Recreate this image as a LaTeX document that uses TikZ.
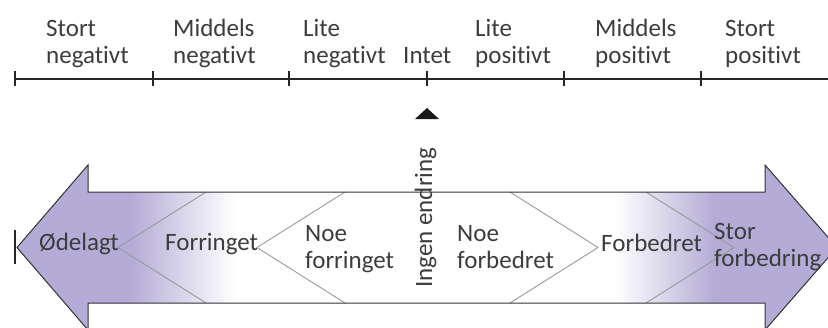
\documentclass[tikz,border=0pt]{standalone}
\usepackage{fontspec}
\setmainfont[Ligatures={NoCommon}]{Carlito}
\definecolor{lilla}{RGB}{180,171,214}
\definecolor{tekst}{RGB}{60,60,60}
\tikzset{
  lbl/.style={anchor=base west, align=left, inner sep=0pt, text=tekst,
    font=\fontsize{25}{27}\selectfont},
  axisline/.style={line width=2.8pt, draw=black!85},
  tickmark/.style={line width=2.6pt, draw=black!85},
  chev/.style={draw=black!40, line width=0.9pt},
  outline/.style={draw=black!80, line width=1pt, line join=miter}
}
\begin{document}
\begin{tikzpicture}[x=1pt,y=-1pt]
      \useasboundingbox (0,0) rectangle (828,327);
      % scale on top
      \coordinate (t0) at (15,79);
      \coordinate (t1) at (153,79);
      \coordinate (t2) at (289,79);
      \coordinate (t3) at (427,79);
      \coordinate (t4) at (564,79);
      \coordinate (t5) at (701,79);
      \coordinate (tend) at (830,79);
      \draw[axisline] (t0) -- (tend);
      \draw[tickmark] ([yshift=-7pt]t0) -- ([yshift=8pt]t0);
      \draw[tickmark] ([yshift=-7pt]t1) -- ([yshift=8pt]t1);
      \draw[tickmark] ([yshift=-7pt]t2) -- ([yshift=8pt]t2);
      \draw[tickmark] ([yshift=-7pt]t3) -- ([yshift=8pt]t3);
      \draw[tickmark] ([yshift=-7pt]t4) -- ([yshift=8pt]t4);
      \draw[tickmark] ([yshift=-7pt]t5) -- ([yshift=8pt]t5);
      \node[lbl] (sneg) at (46,63) {Stort\\negativt};
      \node[lbl] (mneg) at (173,63) {Middels\\negativt};
      \node[lbl] (lneg) at (303,63) {Lite\\negativt};
      \node[lbl] (intet) at (403,63) {Intet};
      \node[lbl] (lpos) at (475,63) {Lite\\positivt};
      \node[lbl] (mpos) at (595,63) {Middels\\positivt};
      \node[lbl] (spos) at (725,63) {Stort\\positivt};
      \fill[black!90] (427,108) -- (439,119) -- (415,119) -- cycle;
      % double arrow
      \coordinate (ltip) at (17,247.5);
      \coordinate (lht) at (88,165);
      \coordinate (lbt) at (88,192);
      \coordinate (rbt) at (765,192);
      \coordinate (rht) at (765,165);
      \coordinate (rtip) at (837,247.5);
      \coordinate (rhb) at (765,330);
      \coordinate (rbb) at (765,303);
      \coordinate (lbb) at (88,303);
      \coordinate (lhb) at (88,330);
      \begin{scope}
        \clip (ltip) -- (lht) -- (lbt) -- (rbt) -- (rht) -- (rtip)
          -- (rhb) -- (rbb) -- (lbb) -- (lhb) -- cycle;
        \fill[lilla] (0,150) rectangle (130,340);
        \shade[left color=lilla, right color=white] (130,150) rectangle (235,340);
        \shade[left color=white, right color=lilla] (615,150) rectangle (715,340);
        \fill[lilla] (715,150) rectangle (840,340);
      \end{scope}
      \draw[chev] (206,192) -- (118,247.5) -- (206,303);
      \draw[chev] (345,192) -- (257,247.5) -- (345,303);
      \draw[chev] (510,192) -- (598,247.5) -- (510,303);
      \draw[chev] (646,192) -- (734,247.5) -- (646,303);
      \draw[outline] (ltip) -- (lht) -- (lbt) -- (rbt) -- (rht) -- (rtip)
        -- (rhb) -- (rbb) -- (lbb) -- (lhb) -- cycle;
      \draw[line width=2.8pt, draw=black!85] (15,230) -- (15,264);
      \node[lbl] (odelagt) at (39,250) {Ødelagt};
      \node[lbl] (forringet) at (165,250) {Forringet};
      \node[lbl] (noeforr) at (305,268) {Noe\\forringet};
      \node[lbl, rotate=90] (ingen) at (432,288) {Ingen endring};
      \node[lbl] (noeforb) at (457,268) {Noe\\forbedret};
      \node[lbl] (forbedret) at (601,251) {Forbedret};
      \node[lbl] (storforb) at (714,266) {Stor\\forbedring};
    \end{tikzpicture}
\end{document}
